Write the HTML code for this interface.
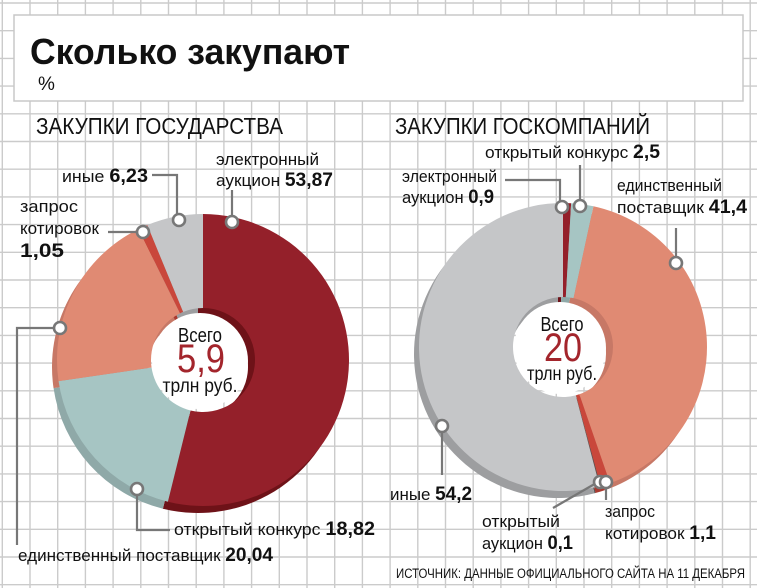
<!DOCTYPE html>
<html><head><meta charset="utf-8">
<style>
html,body{margin:0;padding:0;background:#fff}
svg{display:block}
text{font-family:"Liberation Sans Narrow","Liberation Sans",sans-serif;fill:#111}
.b{font-weight:bold}
</style></head>
<body>
<svg id="chart" width="757" height="588" viewBox="0 0 757 588" xmlns="http://www.w3.org/2000/svg">
<g id="grid"></g>
<rect x="14" y="15" width="729" height="86" fill="#fff" stroke="#c8c8c8" stroke-width="1.5"/>
<text class="b" x="30" y="64" font-size="36" textLength="320" lengthAdjust="spacingAndGlyphs">Сколько закупают</text>
<text x="38" y="90" font-size="19">%</text>
<text x="36" y="134" font-size="23" textLength="247" lengthAdjust="spacingAndGlyphs">ЗАКУПКИ ГОСУДАРСТВА</text>
<text x="395" y="134" font-size="23" textLength="255" lengthAdjust="spacingAndGlyphs">ЗАКУПКИ ГОСКОМПАНИЙ</text>
<g id="leftDonut"></g>
<g id="rightDonut"></g>

<g text-anchor="middle">
<text x="200" y="342" font-size="20" textLength="44" lengthAdjust="spacingAndGlyphs">Всего</text>
<text x="201" y="372" font-size="40" textLength="48" lengthAdjust="spacingAndGlyphs" style="fill:#a3252c">5,9</text>
<text x="200" y="392" font-size="19" textLength="75" lengthAdjust="spacingAndGlyphs">трлн  руб.</text>
</g>
<g text-anchor="middle">
<text x="562" y="331" font-size="20" textLength="43" lengthAdjust="spacingAndGlyphs">Всего</text>
<text x="563" y="361" font-size="40" textLength="38" lengthAdjust="spacingAndGlyphs" style="fill:#a3252c">20</text>
<text x="562" y="380" font-size="19" textLength="70" lengthAdjust="spacingAndGlyphs">трлн руб.</text>
</g>

<g fill="none" stroke="#777" stroke-width="2.2">
<path d="M232 190 V222"/>
<path d="M152 175 H177 V218"/>
<path d="M108 232 H143"/>
<path d="M60 328 H17 V545"/>
<path d="M137 489 V530 H170"/>
</g>
<g fill="none" stroke="#777" stroke-width="2.2">
<path d="M580 165 V206"/>
<path d="M505 180 H560 V207"/>
<path d="M676 228 V263"/>
<path d="M442 426 V475"/>
<path d="M553 508 L598 482"/>
<path d="M606 482 V500"/>
</g>
<g fill="#fff" stroke="#777" stroke-width="2.6">
<circle cx="232" cy="222" r="6"/><circle cx="179" cy="220" r="6"/><circle cx="143" cy="232" r="6"/>
<circle cx="60" cy="328" r="6"/><circle cx="137" cy="489" r="6"/>
<circle cx="562" cy="207" r="6"/><circle cx="580" cy="206" r="6"/><circle cx="676" cy="263" r="6"/>
<circle cx="442" cy="426" r="6"/><circle cx="600" cy="482" r="6"/><circle cx="606" cy="482" r="6"/>
</g>

<g font-size="17">
<text x="216" y="165" textLength="103" lengthAdjust="spacingAndGlyphs">электронный</text>
<text x="216" y="186" textLength="117" lengthAdjust="spacingAndGlyphs">аукцион <tspan class="b" font-size="19">53,87</tspan></text>
<text x="62" y="182" textLength="86" lengthAdjust="spacingAndGlyphs">иные <tspan class="b" font-size="19">6,23</tspan></text>
<text x="20" y="212" textLength="58" lengthAdjust="spacingAndGlyphs">запрос</text>
<text x="20" y="234" textLength="79" lengthAdjust="spacingAndGlyphs">котировок</text>
<text x="20" y="257" class="b" font-size="19" textLength="44" lengthAdjust="spacingAndGlyphs">1,05</text>
<text x="18" y="561" textLength="255" lengthAdjust="spacingAndGlyphs">единственный поставщик <tspan class="b" font-size="19">20,04</tspan></text>
<text x="174" y="535" textLength="201" lengthAdjust="spacingAndGlyphs">открытый конкурс <tspan class="b" font-size="19">18,82</tspan></text>
</g>
<g font-size="17">
<text x="485" y="158" textLength="175" lengthAdjust="spacingAndGlyphs">открытый конкурс <tspan class="b" font-size="19">2,5</tspan></text>
<text x="402" y="182" textLength="95" lengthAdjust="spacingAndGlyphs">электронный</text>
<text x="402" y="203" textLength="92" lengthAdjust="spacingAndGlyphs">аукцион <tspan class="b" font-size="19">0,9</tspan></text>
<text x="617" y="191" textLength="105" lengthAdjust="spacingAndGlyphs">единственный</text>
<text x="617" y="213" textLength="130" lengthAdjust="spacingAndGlyphs">поставщик <tspan class="b" font-size="19">41,4</tspan></text>
<text x="390" y="500" textLength="82" lengthAdjust="spacingAndGlyphs">иные <tspan class="b" font-size="19">54,2</tspan></text>
<text x="482" y="527" textLength="78" lengthAdjust="spacingAndGlyphs">открытый</text>
<text x="482" y="549" textLength="91" lengthAdjust="spacingAndGlyphs">аукцион <tspan class="b" font-size="19">0,1</tspan></text>
<text x="605" y="517" textLength="50" lengthAdjust="spacingAndGlyphs">запрос</text>
<text x="605" y="539" textLength="111" lengthAdjust="spacingAndGlyphs">котировок <tspan class="b" font-size="19">1,1</tspan></text>
</g>
<text x="396" y="578" font-size="13.5" textLength="349" lengthAdjust="spacingAndGlyphs">ИСТОЧНИК: ДАННЫЕ ОФИЦИАЛЬНОГО САЙТА НА 11 ДЕКАБРЯ</text>
</svg>
<script>
const leftCategories = ['электронный аукцион','открытый конкурс','единственный поставщик','запрос котировок','иные'];
const leftValues = [53.87, 18.82, 20.04, 1.05, 6.23];
const rightCategories = ['электронный аукцион','открытый конкурс','единственный поставщик','запрос котировок','открытый аукцион','иные'];
const rightValues = [0.9, 2.5, 41.4, 1.1, 0.1, 54.2];

const NS='http://www.w3.org/2000/svg';
const grid=document.getElementById('grid');
for(let x=2.3;x<757;x+=27.7){const l=document.createElementNS(NS,'line');


l.setAttribute('x1',x);l.setAttribute('x2',x);l.setAttribute('y1',0);l.setAttribute('y2',588);l.setAttribute('stroke','#cbcbcb');l.setAttribute('stroke-width','1.4');grid.appendChild(l);}
for(let y=3;y<588;y+=27.7){const l=document.createElementNS(NS,'line');


l.setAttribute('y1',y);l.setAttribute('y2',y);l.setAttribute('x1',0);l.setAttribute('x2',757);l.setAttribute('stroke','#cbcbcb');l.setAttribute('stroke-width','1.4');grid.appendChild(l);}

function pt(cx,cy,r,a){return [cx+r*Math.sin(a),cy-r*Math.cos(a)];}
function arc(cx,cy,r0,r1,a0,a1){
  const big=(a1-a0)>Math.PI?1:0;
  const p0=pt(cx,cy,r1,a0),p1=pt(cx,cy,r1,a1),p2=pt(cx,cy,r0,a1),p3=pt(cx,cy,r0,a0);
  return `M${p0[0]} ${p0[1]} A${r1} ${r1} 0 ${big} 1 ${p1[0]} ${p1[1]} L${p2[0]} ${p2[1]} A${r0} ${r0} 0 ${big} 0 ${p3[0]} ${p3[1]} Z`;
}
function donut(g,values,colors,shades,cx,cy,r0,r1){
  const total=values.reduce((a,b)=>a+b,0);
  const layers=[[shades,-5,7],[colors,0,0]];
  layers.forEach(([cols,dx,dy])=>{
    let a=0;
    values.forEach((v,i)=>{
      const a1=a+v/total*2*Math.PI;
      const p=document.createElementNS(NS,'path');
      
      
      p.setAttribute('d',arc(cx+dx,cy+dy,dx?r0-2:r0,r1,a,a1));
      p.setAttribute('fill',cols[i]);
      g.appendChild(p);a=a1;
    });
  });
  const h=document.createElementNS(NS,'circle');
  
  
  h.setAttribute('cx',cx-3);h.setAttribute('cy',cy+1);h.setAttribute('r',r0-4);h.setAttribute('fill','#fff');
  g.appendChild(h);
}
donut(document.getElementById('leftDonut'),leftValues,
 ['#94202a','#a6c5c3','#e08a73','#c9473b','#c5c6c8'],
 ['#6e1218','#8fa9a8','#c77866','#a83a30','#9d9ea0'],203,360,52,146);
donut(document.getElementById('rightDonut'),rightValues,
 ['#94202a','#a6c5c3','#e08a73','#c9473b','#555','#c5c6c8'],
 ['#6e1218','#8fa9a8','#c77866','#a83a30','#444','#9d9ea0'],563,347,50,144);
</script>
</body></html>
